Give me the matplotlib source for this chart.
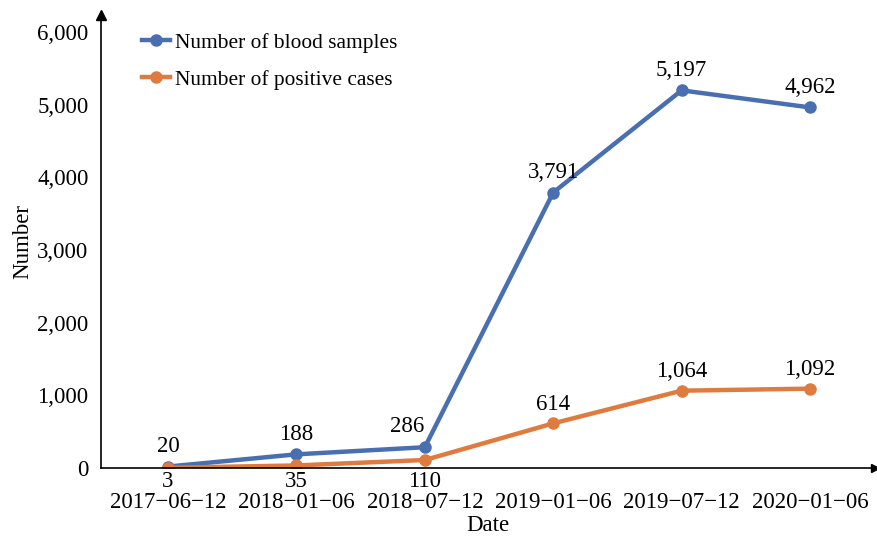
import numpy as np
import matplotlib.pyplot as plt

plt.rcParams['font.family'] = ['Liberation Serif', 'DejaVu Serif']

dates = ["2017\u221206\u221212", "2018\u221201\u221206", "2018\u221207\u221212",
         "2019\u221201\u221206", "2019\u221207\u221212", "2020\u221201\u221206"]
blood = [20, 188, 286, 3791, 5197, 4962]
positive = [3, 35, 110, 614, 1064, 1092]

blue = "#4a6fb0"
orange = "#e07b3f"
fs = 16.5

fig = plt.figure(figsize=(8.77, 5.36), dpi=100)
ax = fig.add_axes([101 / 877, 68 / 536, 774 / 877, 453 / 536])

x = np.arange(len(dates))
ax.plot(x, blood, color=blue, lw=3.2, marker="o", ms=8, label="Number of blood samples")
ax.plot(x, positive, color=orange, lw=3.2, marker="o", ms=8, label="Number of positive cases")

for i, v in enumerate(blood):
    dx = -13 if i == 2 else 0
    ax.annotate(f"{v:,}", (i, v), xytext=(dx, 7), textcoords="offset points",
                ha="center", va="bottom", fontsize=fs)
for i, v in enumerate(positive):
    if i < 3:
        ax.annotate(f"{v:,}", (i, 0), xytext=(0, -2), textcoords="offset points",
                    ha="center", va="top", fontsize=fs)
    else:
        ax.annotate(f"{v:,}", (i, v), xytext=(0, 6), textcoords="offset points",
                    ha="center", va="bottom", fontsize=fs)

ax.set_xlim(-0.522, 5.506)
ax.set_ylim(0, 6234)
ax.set_yticks(np.arange(0, 6001, 1000))
ax.set_yticklabels([f"{v:,}" for v in range(0, 6001, 1000)])
ax.set_xticks(x)
ax.set_xticklabels(dates)
ax.tick_params(axis="x", length=0, pad=17.5, labelsize=fs)
ax.tick_params(axis="y", length=0, pad=9, labelsize=fs)

for s in ["top", "right"]:
    ax.spines[s].set_visible(False)
for s in ["left", "bottom"]:
    ax.spines[s].set_linewidth(1.2)
ax.plot(1, 0, ">k", ms=6, transform=ax.transAxes, clip_on=False)
ax.plot(0, 1, "^k", ms=7, transform=ax.transAxes, clip_on=False)

ax.set_xlabel("Date", fontsize=fs, labelpad=1)
ax.set_ylabel("Number", fontsize=fs, labelpad=3)

ax.legend(loc="upper left", bbox_to_anchor=(0.028, 1.003), frameon=False,
          fontsize=15.4, labelspacing=0.8, handlelength=1.3, handletextpad=0.25)

fig.savefig("out.png", dpi=100)
